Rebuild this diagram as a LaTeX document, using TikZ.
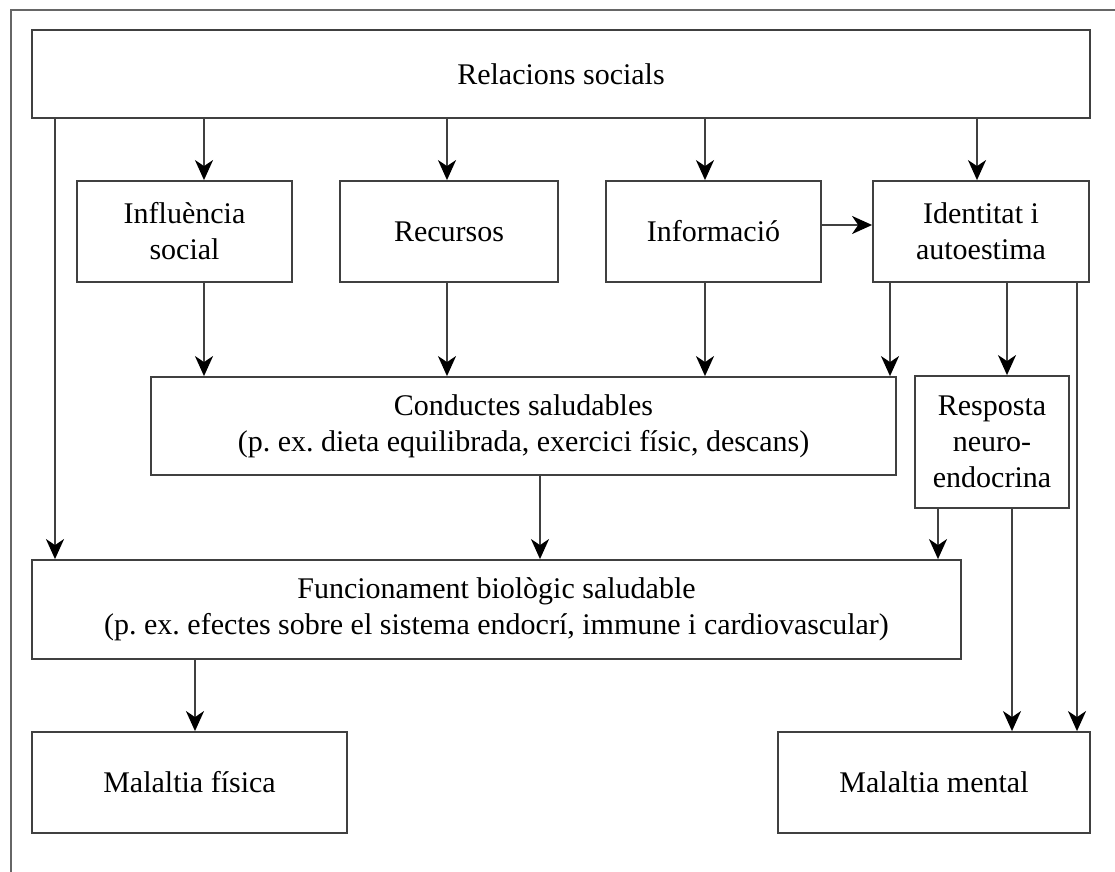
\documentclass[tikz,border=0pt]{standalone}
\usepackage{fontspec}
\setmainfont{Liberation Serif}
\usetikzlibrary{arrows.meta,positioning}

\tikzset{
  caixa/.style={draw=black!75, line width=0.9pt, rectangle, align=center,
    inner sep=0pt, font=\fontsize{15}{18}\selectfont\frenchspacing},
  fletxa/.style={draw=black!75, line width=0.9pt,
    -{Stealth[length=10pt,width=9pt,inset=3pt,black]}},
}

\begin{document}
\begin{tikzpicture}[x=0.5pt,y=-0.5pt]
\useasboundingbox (0,0) rectangle (1115,872);
%\fill[white] (0,0) rectangle (1115,872);
\draw[black!60, line width=0.9pt] (11,872) -- (11,10) -- (1115,10);
% caixes
\node[caixa, minimum width=529pt, minimum height=44pt] (rel) at (561,74) {Relacions socials};
\node[caixa, minimum width=107.5pt, minimum height=50.5pt] (infl) at (184.5,231.5) {Influència\\social};
\node[caixa, minimum width=109pt, minimum height=50.5pt] (recu) at (449,231.5) {Recursos};
\node[caixa, minimum width=107.5pt, minimum height=50.5pt] (info) at (713.5,231.5) {Informació};
\node[caixa, minimum width=108pt, minimum height=50.5pt] (iden) at (981,231.5) {Identitat i\\autoestima};
\node[caixa, minimum width=372.5pt, minimum height=49pt] (cond) at (523.5,426) {Conductes saludables\\(p. ex. dieta equilibrada, exercici físic, descans)};
\node[caixa, minimum width=77pt, minimum height=66pt] (resp) at (992,442) {Resposta\\neuro-\\endocrina};
\node[caixa, minimum width=464.5pt, minimum height=49.5pt] (func) at (496.5,609.5) {Funcionament biològic saludable\\(p. ex. efectes sobre el sistema endocrí, immune i cardiovascular)};
\node[caixa, minimum width=157.5pt, minimum height=50.5pt] (mfis) at (189.5,782.5) {Malaltia física};
\node[caixa, minimum width=156pt, minimum height=50.5pt] (mment) at (934,782.5) {Malaltia mental};
% fletxes
\draw[fletxa] (rel.south -| 55,0) -- (func.north -| 55,0);
\draw[fletxa] (rel.south -| 204,0) -- (infl.north -| 204,0);
\draw[fletxa] (rel.south -| 447,0) -- (recu.north -| 447,0);
\draw[fletxa] (rel.south -| 705,0) -- (info.north -| 705,0);
\draw[fletxa] (rel.south -| 977,0) -- (iden.north -| 977,0);
\draw[fletxa] (info.east |- 0,225) -- (iden.west |- 0,225);
\draw[fletxa] (infl.south -| 204,0) -- (cond.north -| 204,0);
\draw[fletxa] (recu.south -| 447,0) -- (cond.north -| 447,0);
\draw[fletxa] (info.south -| 705,0) -- (cond.north -| 705,0);
\draw[fletxa] (iden.south -| 890,0) -- (cond.north -| 890,0);
\draw[fletxa] (iden.south -| 1007,0) -- (resp.north -| 1007,0);
\draw[fletxa] (iden.south -| 1077,0) -- (mment.north -| 1077,0);
\draw[fletxa] (cond.south -| 540,0) -- (func.north -| 540,0);
\draw[fletxa] (resp.south -| 938,0) -- (func.north -| 938,0);
\draw[fletxa] (resp.south -| 1012,0) -- (mment.north -| 1012,0);
\draw[fletxa] (func.south -| 195,0) -- (mfis.north -| 195,0);
\end{tikzpicture}
\end{document}
